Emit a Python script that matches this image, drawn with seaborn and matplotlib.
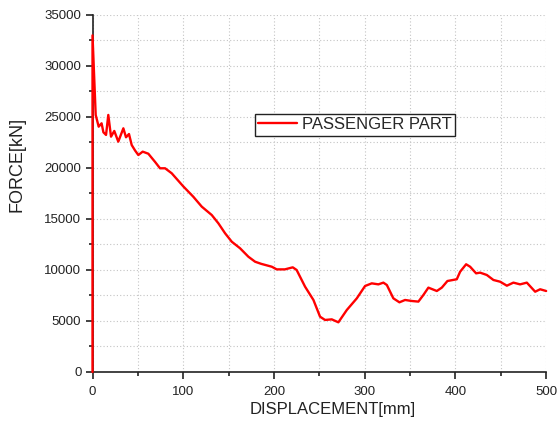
import numpy as np
import pandas as pd
import seaborn as sns
import matplotlib.pyplot as plt
from matplotlib.ticker import MultipleLocator

# Force-displacement curve of the passenger part
displacement = [0, 0, 3.5, 6.8, 10, 12, 14.9, 17.4, 20.4, 24, 28.4, 34, 36.9, 40.2,
                43.2, 47, 50.5, 55.3, 61.5, 68.9, 74.4, 80, 87.3, 100, 111, 120.4,
                131.4, 138.7, 146.1, 153.5, 162.6, 171.8, 179.2, 186, 197.6, 203,
                212, 220.7, 225, 234.3, 243.5, 250.8, 256.3, 263.7, 271, 280.3,
                291.3, 300.4, 307.8, 315.1, 320.6, 324.4, 331.6, 338.3, 344.5,
                351.9, 359.2, 364.7, 370.2, 379.5, 385, 391.2, 401.5, 405.2, 411.8,
                416.2, 422.8, 427.2, 434.6, 441.9, 449.3, 456.7, 463.9, 471.3,
                478.7, 487.9, 493.4, 500]
force = [0, 33000, 25200, 24050, 24380, 23500, 23240, 25200, 23070, 23630, 22580,
         23890, 23010, 23330, 22250, 21700, 21270, 21600, 21400, 20600, 19970,
         19970, 19480, 18200, 17190, 16210, 15390, 14580, 13600, 12770, 12130,
         11300, 10810, 10600, 10320, 10060, 10060, 10260, 10000, 8360, 7060,
         5420, 5100, 5160, 4870, 6080, 7220, 8430, 8690, 8590, 8760, 8530, 7220,
         6830, 7060, 6960, 6900, 7550, 8270, 7940, 8270, 8920, 9090, 9830,
         10560, 10320, 9670, 9740, 9510, 9020, 8850, 8460, 8760, 8590, 8760,
         7870, 8110, 7940]
series_name = "PASSENGER PART"

df = pd.DataFrame({"DISPLACEMENT": displacement, "FORCE": force})

sns.set_theme(style="ticks")
plt.rcParams["font.family"] = ["Liberation Sans", "DejaVu Sans"]

fig = plt.figure(figsize=(5.59, 4.23), dpi=100)
ax = fig.add_axes([0.1655, 0.1206, 0.8115, 0.844])

sns.lineplot(data=df, x="DISPLACEMENT", y="FORCE", color="#ff0000", lw=1.7,
             estimator=None, sort=False, ax=ax, label=series_name,
             clip_on=False, zorder=5)

ax.set_xlim(0, 500)
ax.set_ylim(0, 35000)
ax.xaxis.set_major_locator(MultipleLocator(100))
ax.xaxis.set_minor_locator(MultipleLocator(50))
ax.yaxis.set_major_locator(MultipleLocator(5000))
ax.yaxis.set_minor_locator(MultipleLocator(2500))

ax.grid(which="both", linestyle=(0, (1, 2)), color="#c4c4c4", lw=0.8)
ax.set_axisbelow(True)

for side in ("top", "right"):
    ax.spines[side].set_visible(False)
for side in ("left", "bottom"):
    ax.spines[side].set_color("#222222")
    ax.spines[side].set_linewidth(1.2)

ax.tick_params(which="major", direction="out", length=5, width=1.2,
               labelsize=9.5, colors="#222222")
ax.tick_params(axis="y", which="major", pad=3)
ax.tick_params(axis="x", which="major", pad=5)
ax.tick_params(which="minor", direction="out", length=3, width=1.2,
               colors="#222222")

ax.set_xlabel("DISPLACEMENT[mm]", fontsize=12, color="#222222")
ax.set_ylabel("FORCE[kN]", fontsize=13, color="#222222")
ax.xaxis.set_label_coords(0.53, -0.085)
ax.yaxis.set_label_coords(-0.148, 0.58)

leg = ax.legend(loc="upper left", bbox_to_anchor=(0.358, 0.7227),
                borderaxespad=0, fontsize=12, handlelength=2.3,
                fancybox=False, frameon=True, framealpha=1,
                edgecolor="#222222", borderpad=0.2, handletextpad=0.35)
leg.get_frame().set_linewidth(1.0)

fig.savefig("out.png", dpi=100)
